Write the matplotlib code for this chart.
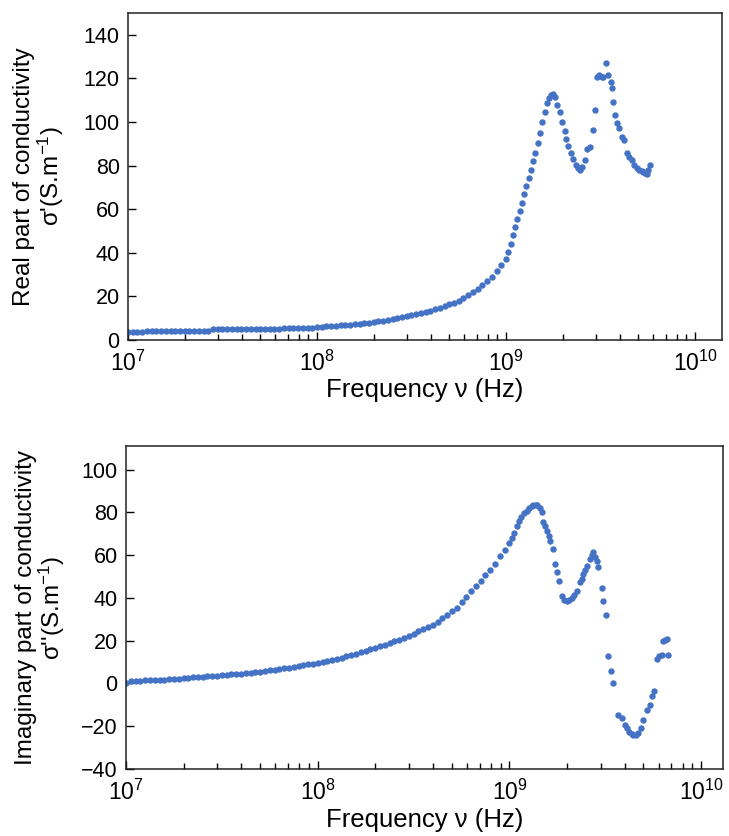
import numpy as np
import matplotlib.pyplot as plt
from matplotlib.ticker import LogLocator, NullFormatter

plt.rcParams['font.family'] = ['Liberation Sans', 'DejaVu Sans']
plt.rcParams['mathtext.fontset'] = 'custom'
plt.rcParams['mathtext.rm'] = 'Liberation Sans'
plt.rcParams['mathtext.it'] = 'Liberation Sans:italic'
plt.rcParams['mathtext.default'] = 'regular'

# --- real part sigma' (frequency given as log10 of Hz) ---
logf_real = [
    7.000, 7.025, 7.050, 7.075, 7.100, 7.125, 7.150, 7.175, 7.200, 7.225,
    7.250, 7.275, 7.300, 7.325, 7.350, 7.375, 7.400, 7.425, 7.450, 7.475,
    7.500, 7.525, 7.550, 7.575, 7.600, 7.625, 7.650, 7.675, 7.700, 7.725,
    7.750, 7.775, 7.800, 7.825, 7.850, 7.875, 7.900, 7.925, 7.950, 7.975,
    8.000, 8.025, 8.050, 8.075, 8.100, 8.125, 8.150, 8.175, 8.200, 8.225,
    8.250, 8.275, 8.300, 8.325, 8.350, 8.375, 8.400, 8.425, 8.450, 8.475,
    8.500, 8.525, 8.550, 8.575, 8.600, 8.625, 8.650, 8.675, 8.700, 8.725,
    8.750, 8.775, 8.800, 8.825, 8.850, 8.875, 8.900, 8.925, 8.950, 8.975,
    9.000, 9.012, 9.024, 9.036, 9.048, 9.060, 9.072, 9.084, 9.096, 9.108,
    9.120, 9.132, 9.144, 9.156, 9.168, 9.180, 9.192, 9.204, 9.216, 9.228,
    9.240, 9.250, 9.260, 9.272, 9.286, 9.298, 9.310, 9.320, 9.330, 9.342,
    9.356, 9.368, 9.380, 9.392, 9.404, 9.416, 9.430, 9.444, 9.462, 9.471,
    9.480, 9.494, 9.506, 9.515, 9.529, 9.541, 9.554, 9.559, 9.568, 9.577,
    9.586, 9.600, 9.612, 9.624, 9.639, 9.651, 9.665, 9.677, 9.692, 9.705,
    9.718, 9.727, 9.735, 9.745, 9.753, 9.762,
]
sigma_real = [
    3.8, 3.8, 3.8, 3.8, 3.9, 3.9, 3.9, 3.9, 4.0, 4.0,
    4.0, 4.0, 4.0, 4.1, 4.1, 4.1, 4.1, 4.1, 5.0, 5.0,
    5.0, 5.0, 5.0, 5.0, 5.1, 5.1, 5.1, 5.1, 5.1, 5.2,
    5.2, 5.2, 5.2, 5.3, 5.3, 5.3, 5.4, 5.4, 5.5, 5.5,
    6.0, 6.1, 6.2, 6.4, 6.5, 6.7, 6.9, 7.0, 7.2, 7.5,
    7.7, 8.0, 8.2, 8.5, 8.9, 9.2, 9.6, 10.0, 10.4, 10.9,
    11.3, 11.8, 12.3, 12.9, 13.5, 14.2, 14.9, 15.6, 16.3, 17.1,
    18.0, 19.2, 20.5, 21.9, 23.5, 25.2, 27.0, 29.1, 31.5, 34.2,
    37.0, 40.5, 44.0, 48.0, 52.0, 55.5, 59.0, 63.0, 67.0, 70.5,
    74.5, 78.0, 82.0, 86.0, 90.5, 95.0, 100.0, 104.5, 108.5, 111.0,
    112.5, 113.0, 111.5, 108.0, 104.5, 100.0, 96.0, 92.0, 89.0, 86.0,
    83.0, 80.5, 79.0, 78.0, 79.5, 82.5, 87.5, 88.7, 96.3, 105.5,
    120.8, 121.6, 120.5, 120.8, 126.9, 121.6, 118.5, 115.4, 109.3, 103.2,
    99.4, 97.1, 93.3, 91.7, 85.6, 84.1, 82.6, 80.3, 78.8, 78.0,
    77.5, 77.2, 76.5, 76.0, 78.0, 80.3,
]

# --- imaginary part sigma'' ---
logf_imag = [
    7.000, 7.025, 7.050, 7.075, 7.100, 7.125, 7.150, 7.175, 7.200, 7.225,
    7.250, 7.275, 7.300, 7.325, 7.350, 7.375, 7.400, 7.425, 7.450, 7.475,
    7.500, 7.525, 7.550, 7.575, 7.600, 7.625, 7.650, 7.675, 7.700, 7.725,
    7.750, 7.775, 7.800, 7.825, 7.850, 7.875, 7.900, 7.925, 7.950, 7.975,
    8.000, 8.025, 8.050, 8.075, 8.100, 8.125, 8.150, 8.175, 8.200, 8.225,
    8.250, 8.275, 8.300, 8.325, 8.350, 8.375, 8.400, 8.425, 8.450, 8.475,
    8.500, 8.525, 8.550, 8.575, 8.600, 8.625, 8.650, 8.675, 8.700, 8.725,
    8.750, 8.775, 8.800, 8.825, 8.850, 8.875, 8.900, 8.925, 8.950, 8.975,
    9.000, 9.012, 9.024, 9.038, 9.050, 9.062, 9.076, 9.090, 9.104, 9.116,
    9.125, 9.136, 9.146, 9.158, 9.169, 9.177, 9.186, 9.195, 9.204, 9.212,
    9.226, 9.238, 9.250, 9.260, 9.273, 9.286, 9.299, 9.312, 9.325, 9.338,
    9.351, 9.368, 9.378, 9.386, 9.396, 9.406, 9.420, 9.430, 9.438, 9.446,
    9.455, 9.464, 9.481, 9.490, 9.504, 9.516, 9.528, 9.542, 9.568, 9.586,
    9.603, 9.615, 9.626, 9.637, 9.647, 9.658, 9.668, 9.685, 9.699, 9.716,
    9.734, 9.742, 9.754, 9.768, 9.782, 9.794, 9.803, 9.812, 9.824, 9.828,
]
sigma_imag = [
    0.3, 1.0, 1.2, 1.3, 1.4, 1.5, 1.6, 1.7, 1.8, 2.0,
    2.1, 2.3, 2.5, 2.6, 2.8, 2.9, 3.1, 3.3, 3.4, 3.6,
    3.8, 4.0, 4.2, 4.4, 4.6, 4.8, 5.0, 5.3, 5.5, 5.8,
    6.1, 6.4, 6.7, 7.0, 7.3, 7.7, 8.1, 8.5, 8.9, 9.3,
    9.7, 10.1, 10.6, 11.1, 11.6, 12.1, 12.7, 13.3, 13.9, 14.5,
    15.2, 15.9, 16.6, 17.3, 18.0, 18.8, 19.7, 20.5, 21.4, 22.3,
    23.3, 24.3, 25.3, 26.4, 27.5, 28.8, 30.5, 32.0, 33.8, 35.5,
    38.0, 40.5, 43.0, 45.5, 48.0, 50.5, 53.0, 55.8, 59.5, 62.5,
    65.5, 68.0, 70.5, 73.8, 76.0, 78.0, 79.8, 80.8, 82.0, 83.0,
    83.5, 83.4, 83.2, 82.0, 80.0, 75.4, 73.5, 71.4, 69.0, 66.7,
    62.8, 55.8, 51.9, 47.9, 40.9, 39.0, 38.5, 39.2, 40.1, 41.5,
    43.2, 47.2, 49.0, 51.1, 53.0, 55.0, 58.1, 60.0, 61.3, 59.0,
    57.3, 54.2, 44.8, 38.5, 31.8, 12.7, 5.7, 0.2, -14.6, -16.2,
    -19.3, -21.0, -22.5, -23.8, -24.0, -24.2, -23.2, -20.9, -17.0, -12.3,
    -10.0, -6.0, -3.7, 11.2, 12.7, 13.5, 19.8, 20.5, 20.9, 13.5,
]

freq_real = 10 ** np.array(logf_real)
freq_imag = 10 ** np.array(logf_imag)

dot_color = '#4472C4'
fs_ytick = 15.5
fs_xtick = 16.5
fs_xlabel = 18.5
fs_ylabel = 17.5

fig = plt.figure(figsize=(7.29, 8.36), dpi=100)
ax1 = fig.add_axes([128 / 729, 1 - 340 / 836, 594 / 729, 327 / 836])
ax2 = fig.add_axes([126 / 729, 1 - 769 / 836, 597 / 729, 323 / 836])


def style_axis(ax, xmax, xlabel_y):
    ax.set_xscale('log')
    ax.set_xlim(1e7, xmax)
    ax.xaxis.set_major_locator(LogLocator(base=10, numticks=10))
    ax.xaxis.set_minor_locator(LogLocator(base=10, subs=np.arange(2, 10), numticks=10))
    ax.xaxis.set_minor_formatter(NullFormatter())
    ax.tick_params(axis='x', which='major', direction='in', length=6, width=1,
                   labelsize=fs_xtick, pad=8)
    ax.tick_params(axis='x', which='minor', direction='in', length=4.5, width=1)
    ax.tick_params(axis='y', which='major', direction='in', length=6, width=1,
                   labelsize=fs_ytick, pad=6)
    for sp in ax.spines.values():
        sp.set_linewidth(1.1)
        sp.set_color('#222222')
    ax.set_xlabel('Frequency ν (Hz)', fontsize=fs_xlabel)
    ax.xaxis.set_label_coords(0.5, xlabel_y)


ax1.plot(freq_real, sigma_real, 'o', color=dot_color, markersize=4.6, markeredgewidth=0)
style_axis(ax1, 1.39e10, -0.116)
ax1.set_ylim(0, 150)
ax1.set_yticks(np.arange(0, 141, 20))
ax1.set_ylabel("Real part of conductivity\nσ'(S.m$^{-1}$)", fontsize=fs_ylabel, linespacing=1.0)
ax1.yaxis.set_label_coords(-0.105, 0.5)

ax2.plot(freq_imag, sigma_imag, 'o', color=dot_color, markersize=4.6, markeredgewidth=0)
style_axis(ax2, 1.30e10, -0.122)
ax2.set_ylim(-40, 111)
ax2.set_yticks(np.arange(-40, 101, 20))
ax2.set_ylabel("Imaginary part of conductivity\nσ''(S.m$^{-1}$)", fontsize=fs_ylabel, linespacing=1.0)
ax2.yaxis.set_label_coords(-0.099, 0.5)

fig.savefig('out.png', dpi=100)
